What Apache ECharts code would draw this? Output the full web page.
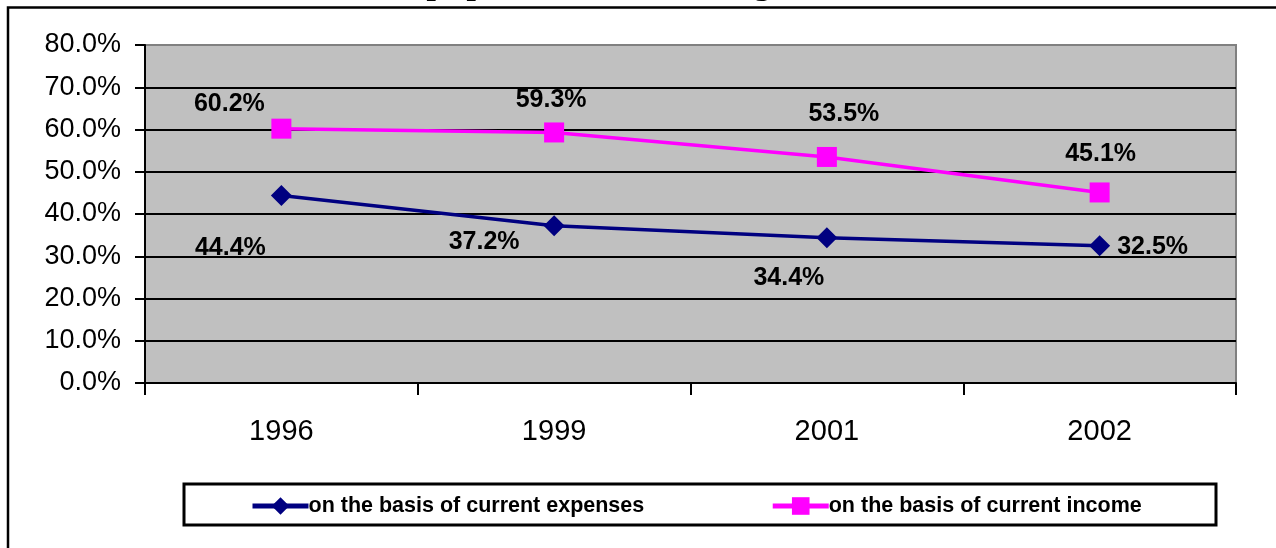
<!DOCTYPE html>
<html>
<head>
	<meta charset="utf-8">
	<title>Share of the population</title>
	<style type="text/css">
		html,body{
			margin: 0;
			padding: 0;
			width: 100%;
			height: 100%;
			background: #fff;
			overflow: hidden;
		}
		#main{
			width: 1276px;
			height: 548px;
		}
	</style>
</head>
<body>
<div id="main"></div>
<script src="https://cdn.jsdelivr.net/npm/echarts@6/dist/echarts.min.js"></script>
<script>
    // 年份（x轴）
    var years = ['1996', '1999', '2001', '2002'];
    // on the basis of current expenses
    var expensesShare = [44.4, 37.2, 34.4, 32.5];
    // on the basis of current income
    var incomeShare = [60.2, 59.3, 53.5, 45.1];
    var seriesNames = ['on the basis of current expenses', 'on the basis of current income'];
    var titleText = 'Share of the population in the Region';

    function pct(v) {
        return Number(v).toFixed(1) + '%';
    }

    var myChart = echarts.init(document.getElementById('main'));

    // label offsets, per point
    var expOffsets = [[-51, 53], [-70, 16], [-38, 40], [53, 1]];
    var incOffsets = [[-52, -25], [-3, -32], [17, -43], [1, -38]];

    function withLabels(values, offsets) {
        var out = [];
        for (var i = 0; i < values.length; i++) {
            out.push({ value: values[i], label: { offset: offsets[i] } });
        }
        return out;
    }

    var font = 'Arial, "Liberation Sans", sans-serif';

    var labelStyle = {
        show: true,
        position: 'inside',
        formatter: function (p) { return pct(p.value); },
        fontFamily: font,
        fontWeight: 'bold',
        fontSize: 25,
        color: '#000'
    };

    var option = {
        animation: false,
        title: {
            text: titleText,
            left: 223,
            top: -39,
            padding: 0,
            textStyle: {
                fontFamily: '"Times New Roman", "Liberation Serif", serif',
                fontWeight: 'normal',
                fontSize: 40,
                color: '#000'
            }
        },
        graphic: [
            {
                type: 'rect',
                shape: { x: 8, y: 7.5, width: 1320, height: 600 },
                style: { fill: null, stroke: '#000', lineWidth: 2.5 },
                silent: true
            },
            {
                type: 'rect',
                shape: { x: 184, y: 484, width: 1032, height: 41 },
                style: { fill: '#fff', stroke: '#000', lineWidth: 3 },
                z: -1,
                silent: true
            }
        ],
        legend: {
            data: [
                { name: seriesNames[0], lineStyle: { width: 5 } },
                { name: seriesNames[1], lineStyle: { width: 5 } }
            ],
            left: 250,
            top: 495,
            padding: 0,
            itemWidth: 56,
            itemHeight: 22,
            itemGap: 126,
            textStyle: {
                fontFamily: font,
                fontWeight: 'bold',
                fontSize: 21.5,
                color: '#000',
                padding: [0, 0, 0, -5]
            }
        },
        grid: {
            left: 145,
            right: 40,
            top: 45,
            bottom: 165,
            show: true,
            backgroundColor: '#C0C0C0',
            borderColor: '#808080',
            borderWidth: 2,
            containLabel: false
        },
        xAxis: {
            type: 'category',
            data: years,
            boundaryGap: true,
            axisLine: { lineStyle: { color: '#000', width: 2 } },
            axisTick: { show: true, length: 12, lineStyle: { color: '#000', width: 2 } },
            axisLabel: {
                margin: 34,
                fontFamily: font,
                fontSize: 29,
                color: '#000'
            },
            splitLine: { show: false }
        },
        yAxis: {
            type: 'value',
            min: 0,
            max: 80,
            interval: 10,
            axisLine: { show: true, lineStyle: { color: '#000', width: 2 } },
            axisTick: { show: true, length: 10, lineStyle: { color: '#000', width: 2 } },
            axisLabel: {
                margin: 24,
                formatter: pct,
                fontFamily: font,
                fontSize: 27,
                color: '#000'
            },
            splitLine: {
                show: true,
                lineStyle: {
                    color: ['#000', '#000', '#000', '#000', '#000', '#000', '#000', '#000', '#808080'],
                    width: 2
                }
            }
        },
        series: [
            {
                name: seriesNames[0],
                type: 'line',
                data: withLabels(expensesShare, expOffsets),
                symbol: 'diamond',
                symbolSize: 21,
                lineStyle: { color: '#000080', width: 3.5 },
                itemStyle: { color: '#000080' },
                label: labelStyle,
                z: 3
            },
            {
                name: seriesNames[1],
                type: 'line',
                data: withLabels(incomeShare, incOffsets),
                symbol: 'rect',
                symbolSize: 20,
                lineStyle: { color: '#FF00FF', width: 3.5 },
                itemStyle: { color: '#FF00FF' },
                label: labelStyle,
                z: 4
            }
        ]
    };

    myChart.setOption(option);
</script>
</body>
</html>
